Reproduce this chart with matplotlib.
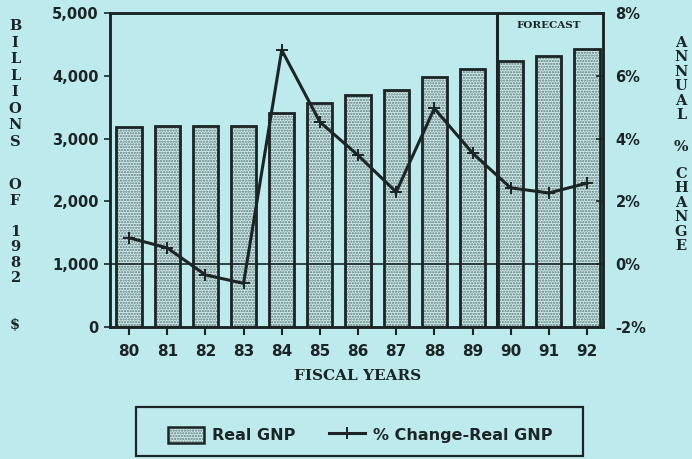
import matplotlib
matplotlib.use("Agg")
import matplotlib.pyplot as plt
from matplotlib.patches import Rectangle
from matplotlib.legend_handler import HandlerTuple

years = [80, 81, 82, 83, 84, 85, 86, 87, 88, 89, 90, 91, 92]
year_labels = ["80", "81", "82", "83", "84", "85", "86", "87", "88", "89", "90", "91", "92"]
real_gnp = [3180, 3200, 3200, 3195, 3410, 3560, 3690, 3780, 3985, 4115, 4235, 4320, 4420]
pct_change = [0.84, 0.52, -0.34, -0.61, 6.82, 4.53, 3.47, 2.30, 4.96, 3.54, 2.43, 2.27, 2.58]
left_ticks = [0, 1000, 2000, 3000, 4000, 5000]
left_labels = ["0", "1,000", "2,000", "3,000", "4,000", "5,000"]
right_ticks = [-2, 0, 2, 4, 6, 8]
right_labels = ["-2%", "0%", "2%", "4%", "6%", "8%"]
forecast_start = 89.63

BG = "#bdebed"
INK = "#1c2424"
BARFACE = "#cfeeed"
DOTS = "#5d7676"
plt.rcParams["hatch.linewidth"] = 1.1

W, H = 692, 459
fig = plt.figure(figsize=(W / 100, H / 100), dpi=100, facecolor=BG)
ax = fig.add_axes([110 / W, (H - 327) / H, (603 - 110) / W, (327 - 13) / H])
ax.set_facecolor(BG)

bw = 0.66
fill = ax.bar(years, real_gnp, width=bw, color=BARFACE, edgecolor=DOTS,
              linewidth=0, hatch="......", zorder=2)
outline = ax.bar(years, real_gnp, width=bw, fill=False, edgecolor=INK,
                 linewidth=2.0, zorder=3)

ax.set_xlim(79.5, 92.42)
ax.set_ylim(0, 5000)
ax.axhline(1000, color=INK, linewidth=1.2, zorder=4)
ax.axvline(forecast_start, color=INK, linewidth=2.2, zorder=5)

ax.set_xticks(years)
ax.set_xticklabels(year_labels, fontsize=11, fontweight="bold", color=INK)
ax.set_yticks(left_ticks)
ax.set_yticklabels(left_labels, fontsize=10.5, fontweight="bold", color=INK)
ax.tick_params(axis="x", direction="out", length=6, width=1.5, pad=6, colors=INK)
ax.tick_params(axis="y", direction="out", length=4, width=1.2, pad=4, colors=INK)
for s in ax.spines.values():
    s.set_linewidth(1.8)
    s.set_color(INK)

ax2 = ax.twinx()
ax2.set_ylim(-2, 8)
line, = ax2.plot(years, pct_change, color=INK, linewidth=2.2, marker="+",
                 markersize=9, markeredgewidth=1.4, zorder=6)
ax2.set_yticks(right_ticks)
ax2.set_yticklabels(right_labels, fontsize=10.5, fontweight="bold", color=INK)
ax2.tick_params(axis="y", direction="in", length=5, width=1.2, pad=9, colors=INK)
for s in ax2.spines.values():
    s.set_linewidth(1.8)
    s.set_color(INK)

ax.text(91.0, 0.975, "FORECAST", transform=ax.get_xaxis_transform(), ha="center",
        va="top", fontsize=7.5, fontweight="bold", family="DejaVu Serif", color=INK)

fig.text(358 / W, 1 - 376 / H, "FISCAL YEARS", ha="center", va="center",
         fontsize=11, fontweight="bold", family="DejaVu Serif", color=INK)

def stack(x, y_center, text, pitch, size=10.5):
    ls = pitch / (size * 100 / 72 * 0.954)
    fig.text(x / W, 1 - y_center / H, "\n".join(text), ha="center", va="center",
             ma="center", fontsize=size, fontweight="heavy", family="DejaVu Serif",
             color=INK, linespacing=ls)

stack(15, 84, "BILLIONS", 17.1)
stack(15, 193, "OF", 15.5)
stack(15, 255, "1982", 15.5)
stack(15, 325, "$", 15)
stack(681, 79, "ANNUAL", 14.4)
stack(681, 147, "%", 14, size=11)
stack(681, 210, "CHANGE", 14.6)

# legend box
fig.patches.append(Rectangle((136 / W, 1 - 456 / H), 447 / W, 49 / H, transform=fig.transFigure,
                             fill=False, edgecolor=INK, linewidth=1.6))
leg_fill = Rectangle((0, 0), 1, 1, facecolor=BARFACE, edgecolor=DOTS, linewidth=0, hatch="......")
leg_out = Rectangle((0, 0), 1, 1, fill=False, edgecolor=INK, linewidth=1.8)
fig.legend([(leg_fill, leg_out), line], ["Real GNP", "% Change-Real GNP"],
           handler_map={tuple: HandlerTuple(ndivide=1, pad=0)},
           loc="center", bbox_to_anchor=(360 / W, 1 - 435 / H), ncol=2, frameon=False,
           prop={"weight": "bold", "size": 11.5}, labelcolor=INK,
           handlelength=2.25, handleheight=1.25, handletextpad=0.5, columnspacing=2.1)

fig.savefig("out.png", dpi=100, facecolor=BG)
